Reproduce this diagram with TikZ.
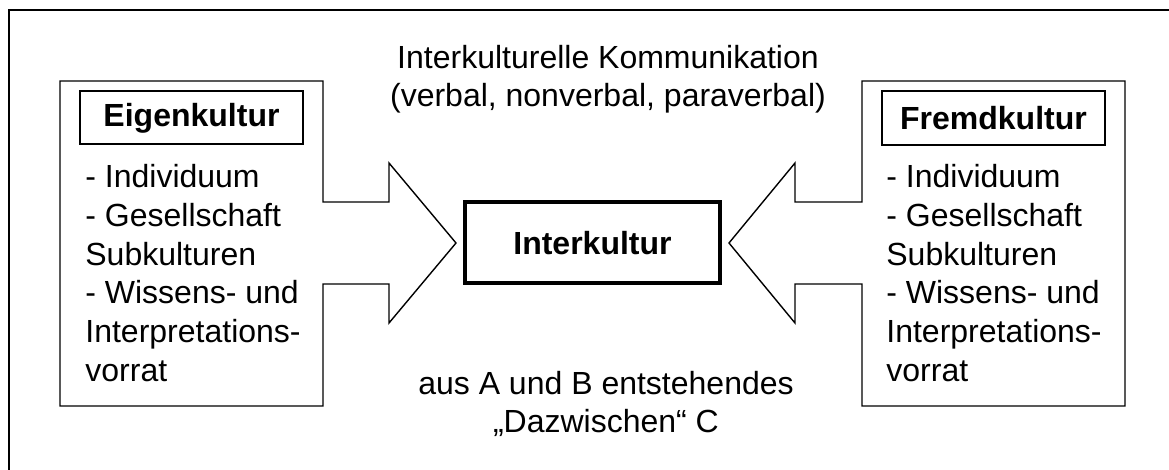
\documentclass[tikz,border=0pt]{standalone}
\usepackage{fontspec}
\setmainfont{Liberation Sans}
\begin{document}
\begin{tikzpicture}[x=0.5pt,y=-0.5pt,
  txt/.style={font=\fontsize{16}{19.3}\selectfont, inner sep=0pt},
  head/.style={font=\fontsize{16}{19.3}\selectfont\bfseries, inner sep=0pt},
  thin/.style={line width=0.7pt},
  thick box/.style={line width=1.6pt}]
\useasboundingbox (0,0) rectangle (1169,470);
% outer frame (clipped on right and bottom)
\draw[thin] (9,470) -- (9,10) -- (1169,10);
% left box with arrow
\draw[thin, line join=miter] (60,81) -- (323,81) -- (323,202) -- (389,202) -- (389,163)
  -- (456,243) -- (389,323) -- (389,284) -- (323,284) -- (323,406) -- (60,406) -- cycle;
% right box with arrow
\draw[thin, line join=miter] (1125,81) -- (862,81) -- (862,202) -- (795,202) -- (795,163)
  -- (729,243) -- (795,323) -- (795,284) -- (862,284) -- (862,406) -- (1125,406) -- cycle;
% heading boxes
\draw[thin] (80,91) rectangle (303,144);
\node[head] (eigen) at (191.5,118) {Eigenkultur};
\draw[thin] (882,91) rectangle (1105,145);
\node[head] (fremd) at (993.5,118) {Fremdkultur};
% centre box
\draw[thick box] (465,202) rectangle (720,283);
\node[head] (inter) at (592.5,243) {Interkultur};
% body texts
\node[txt, anchor=base west] (l1) at (85,188) {- Individuum};
\node[txt, anchor=base west] (l2) at (85,227) {- Gesellschaft};
\node[txt, anchor=base west] (l3) at (85,266) {Subkulturen};
\node[txt, anchor=base west] (l4) at (85,304) {- Wissens- und};
\node[txt, anchor=base west] (l5) at (85,343) {Interpretations-};
\node[txt, anchor=base west] (l6) at (85,382) {vorrat};
\node[txt, anchor=base west] (r1) at (886,188) {- Individuum};
\node[txt, anchor=base west] (r2) at (886,227) {- Gesellschaft};
\node[txt, anchor=base west] (r3) at (886,266) {Subkulturen};
\node[txt, anchor=base west] (r4) at (886,304) {- Wissens- und};
\node[txt, anchor=base west] (r5) at (886,343) {Interpretations-};
\node[txt, anchor=base west] (r6) at (886,382) {vorrat};
% top and bottom captions
\node[txt, anchor=base] (t1) at (608,69) {Interkulturelle Kommunikation};
\node[txt, anchor=base] (t2) at (608,107) {(verbal, nonverbal, paraverbal)};
\node[txt, anchor=base] (b1) at (606,395) {aus A und B entstehendes};
\node[txt, anchor=base] (b2) at (606,433) {„Dazwischen“ C};
\end{tikzpicture}
\end{document}
